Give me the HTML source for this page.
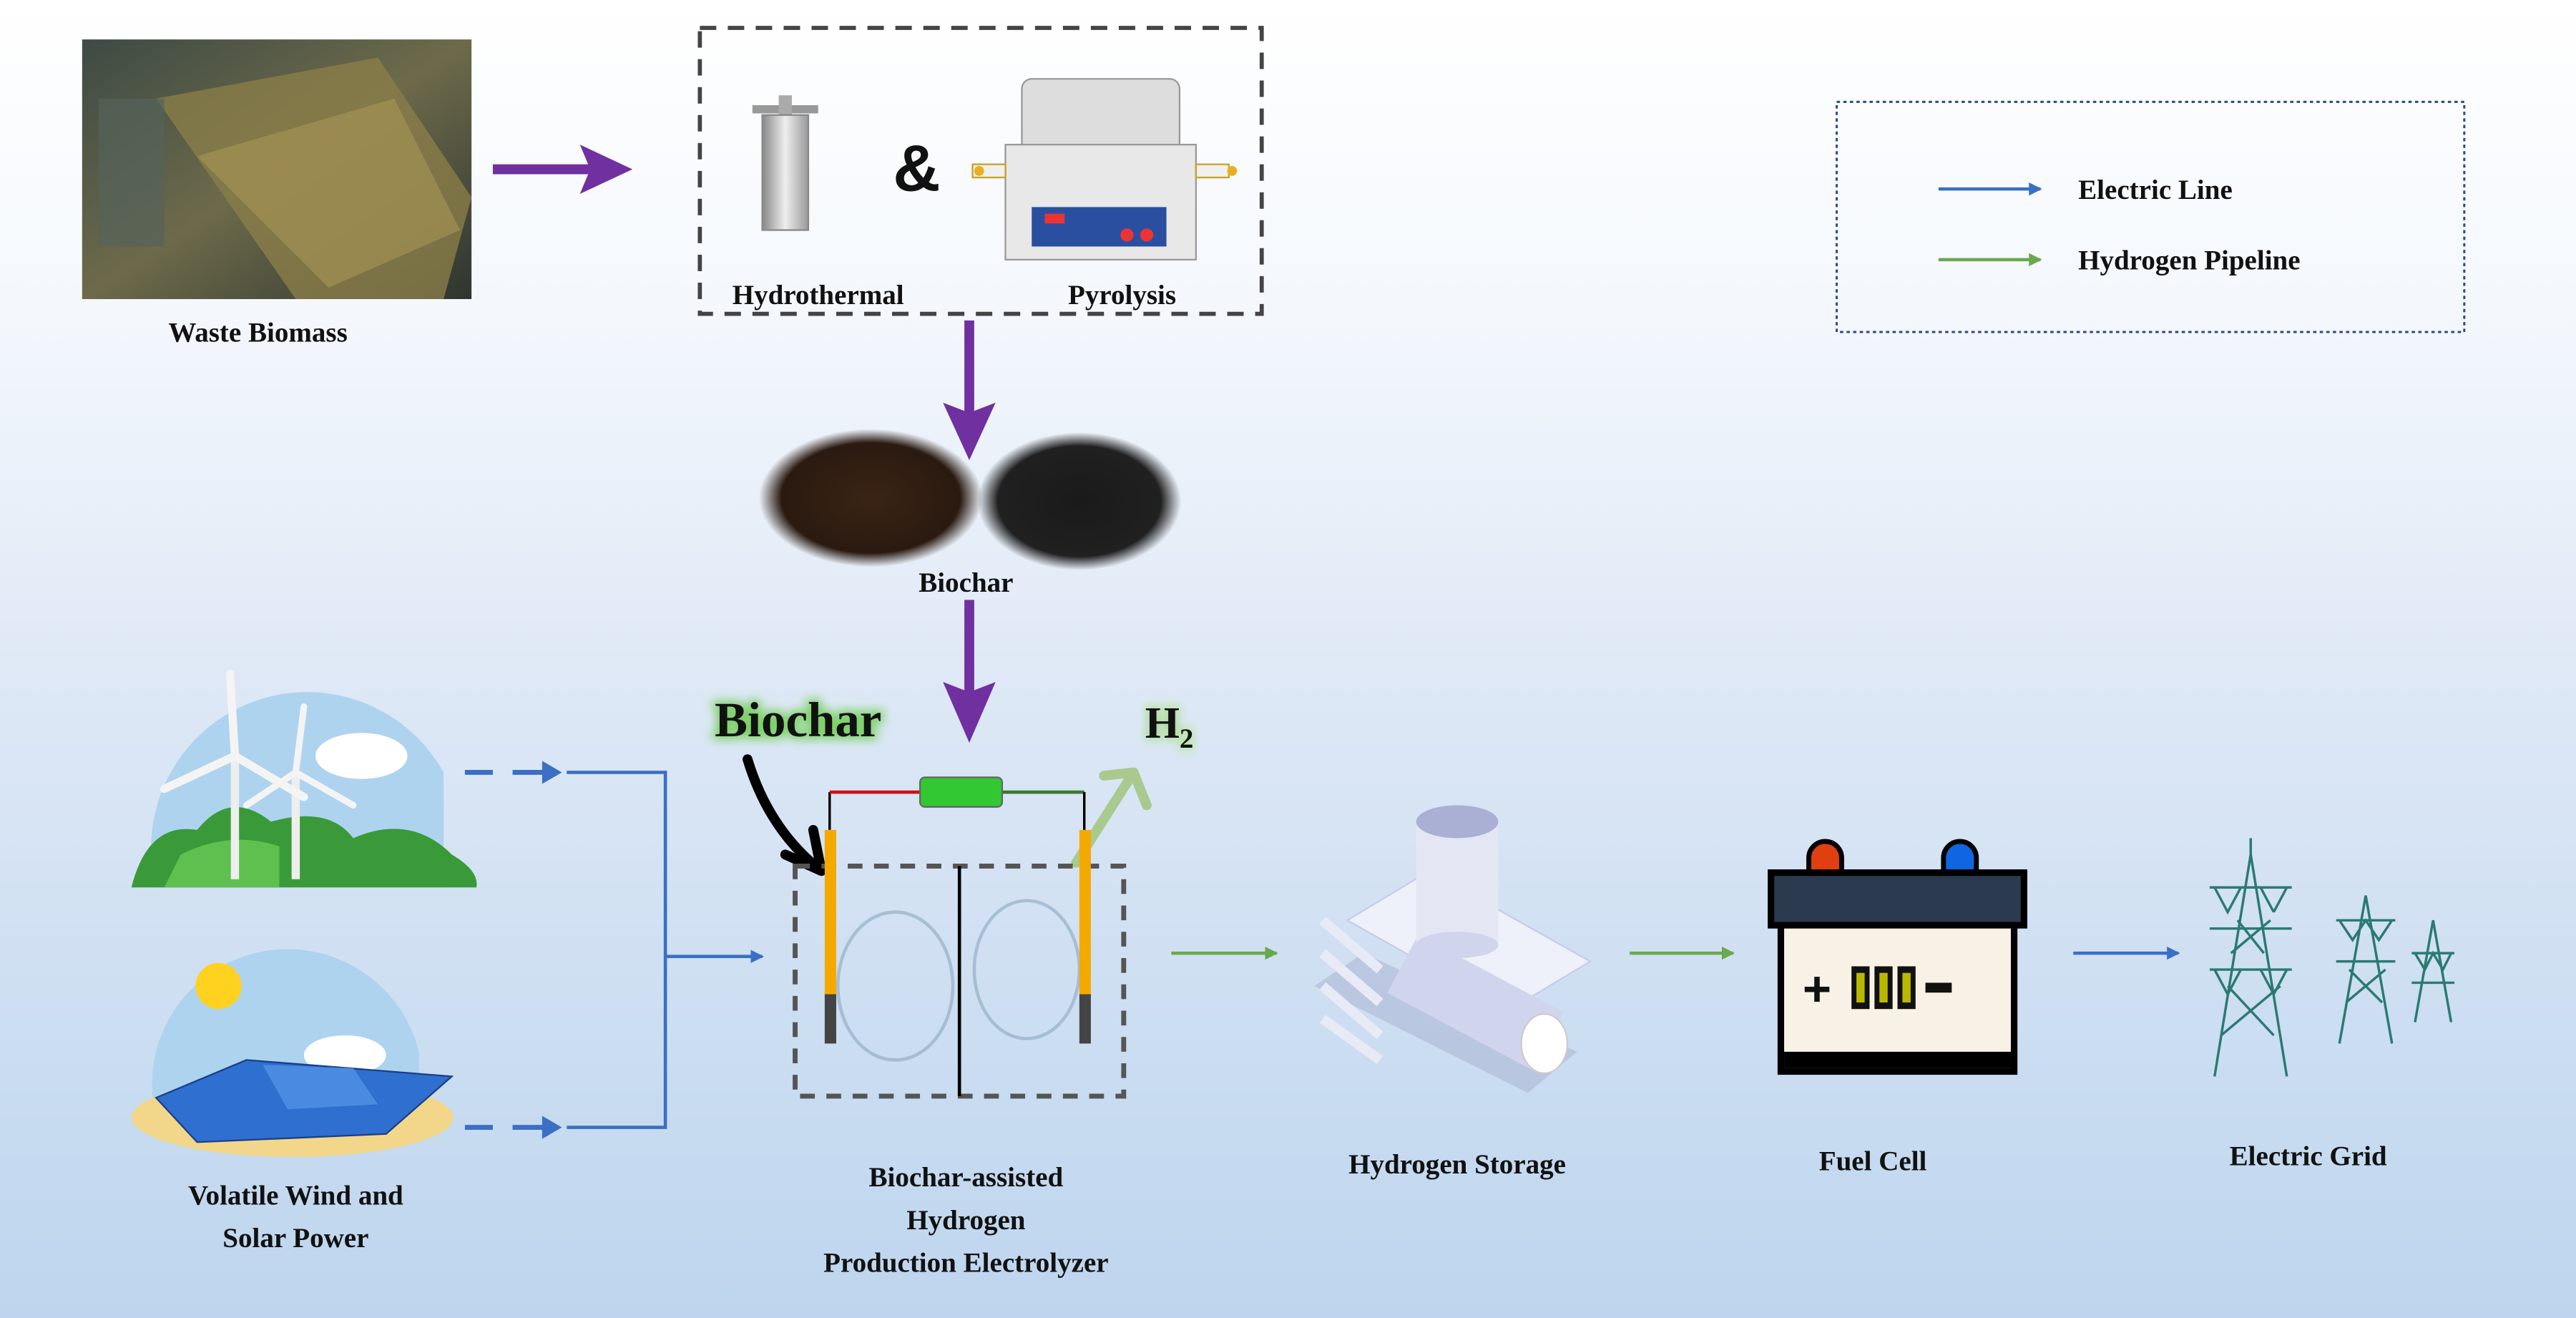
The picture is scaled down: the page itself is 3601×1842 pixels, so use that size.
<!DOCTYPE html>
<html><head><meta charset="utf-8"><style>
html,body{margin:0;padding:0;width:3601px;height:1842px;overflow:hidden;background:#fff}
svg{display:block}
text{font-family:"Liberation Serif",serif;font-weight:bold;fill:#111}
</style></head><body>
<svg width="3601" height="1842" viewBox="0 0 1568 802" preserveAspectRatio="none" xmlns="http://www.w3.org/2000/svg">
<defs>
<linearGradient id="bg" x1="0" y1="0" x2="0" y2="1">
<stop offset="0" stop-color="#ffffff"/><stop offset="0.25" stop-color="#f3f7fc"/><stop offset="0.5" stop-color="#dfe9f6"/><stop offset="1" stop-color="#bdd5ee"/>
</linearGradient>
<linearGradient id="photo" x1="0" y1="0" x2="1" y2="1">
<stop offset="0" stop-color="#3d4a44"/><stop offset="0.5" stop-color="#6d6a4a"/><stop offset="1" stop-color="#2e3530"/>
</linearGradient>
<radialGradient id="brown"><stop offset="0" stop-color="#3a2414"/><stop offset="0.8" stop-color="#2a1a10"/><stop offset="1" stop-color="#2a1a10" stop-opacity="0"/></radialGradient>
<radialGradient id="black"><stop offset="0" stop-color="#1a1a1a"/><stop offset="0.8" stop-color="#202020"/><stop offset="1" stop-color="#202020" stop-opacity="0"/></radialGradient>
<linearGradient id="steel" x1="0" x2="1"><stop offset="0" stop-color="#888"/><stop offset="0.5" stop-color="#eee"/><stop offset="1" stop-color="#999"/></linearGradient>
<marker id="ab" markerWidth="8" markerHeight="8" refX="7" refY="4" orient="auto" markerUnits="userSpaceOnUse"><path d="M0,0 L8,4 L0,8 Z" fill="#3a6fc4"/></marker>
<marker id="ag" markerWidth="8" markerHeight="8" refX="7" refY="4" orient="auto" markerUnits="userSpaceOnUse"><path d="M0,0 L8,4 L0,8 Z" fill="#6aa84f"/></marker>
<filter id="glow"><feGaussianBlur stdDeviation="3"/></filter>
</defs>
<rect width="1568" height="802" fill="url(#bg)"/>

<rect x="50" y="24" width="237" height="158" fill="url(#photo)"/>
<polygon points="95,60 230,35 287,120 270,182 180,182" fill="#8a7d48" opacity="0.8"/>
<polygon points="120,95 240,60 280,140 200,175" fill="#a89656" opacity="0.6"/>
<rect x="60" y="60" width="40" height="90" fill="#55625a" opacity="0.7"/>
<text x="157" y="208" font-size="17" text-anchor="middle">Waste Biomass</text>

<path d="M300,100 L358,100 L353,88 L385,103 L353,118 L358,106 L300,106 Z" fill="#7030a0"/>

<rect x="426" y="17" width="342" height="174" fill="none" stroke="#444" stroke-width="2.5" stroke-dasharray="10,7"/>
<rect x="458" y="64" width="40" height="5" fill="#999"/>
<rect x="474" y="58" width="8" height="12" fill="#aaa"/>
<rect x="464" y="70" width="28" height="70" fill="url(#steel)" stroke="#888"/>
<text x="558" y="116" font-size="40" text-anchor="middle" style="font-family:'Liberation Sans',sans-serif">&amp;</text>
<rect x="622" y="48" width="96" height="45" rx="6" fill="#ddd" stroke="#999"/>
<rect x="612" y="88" width="116" height="70" fill="#e8e8e8" stroke="#999"/>
<rect x="592" y="100" width="20" height="8" fill="#f0f0f0" stroke="#c9a227"/>
<rect x="728" y="100" width="20" height="8" fill="#f0f0f0" stroke="#c9a227"/>
<circle cx="596" cy="104" r="3" fill="#e8b020"/><circle cx="750" cy="104" r="3" fill="#e8b020"/>
<rect x="628" y="126" width="82" height="24" fill="#2a4fa0"/>
<rect x="636" y="130" width="12" height="6" fill="#e33"/>
<circle cx="686" cy="143" r="4" fill="#e33"/><circle cx="698" cy="143" r="4" fill="#e33"/>
<text x="498" y="185" font-size="17" text-anchor="middle">Hydrothermal</text>
<text x="683" y="185" font-size="17" text-anchor="middle">Pyrolysis</text>

<path d="M587,195 L593,195 L593,250 L606,245 L590,280 L574,245 L587,250 Z" fill="#7030a0"/>
<ellipse cx="530" cy="303" rx="68" ry="42" fill="url(#brown)"/>
<ellipse cx="657" cy="305" rx="62" ry="42" fill="url(#black)"/>
<text x="588" y="360" font-size="17" text-anchor="middle">Biochar</text>
<path d="M587,365 L593,365 L593,420 L606,415 L590,452 L574,415 L587,420 Z" fill="#7030a0"/>

<path d="M95,540 A95,95 0 0 1 270,470 L270,540 Z" fill="#aed3ef"/>
<path d="M80,540 Q90,500 120,505 Q140,480 165,500 Q200,490 215,510 Q250,495 275,520 Q292,530 290,540 Z" fill="#3a9a3a"/>
<path d="M110,520 Q140,505 170,515 L170,540 L100,540 Z" fill="#5fbf4f"/>
<ellipse cx="220" cy="460" rx="28" ry="14" fill="#fff"/>
<line x1="143" y1="460" x2="143" y2="535" stroke="#eee" stroke-width="5"/>
<line x1="180" y1="470" x2="180" y2="535" stroke="#eee" stroke-width="5"/>
<path d="M143,460 L140,410 M143,460 L100,480 M143,460 L185,485" stroke="#f4f4f4" stroke-width="5" stroke-linecap="round"/>
<path d="M180,470 L185,430 M180,470 L150,490 M180,470 L215,490" stroke="#f4f4f4" stroke-width="4" stroke-linecap="round"/>
<path d="M95,680 A80,80 0 0 1 255,640 L255,680 Z" fill="#aed3ef"/>
<circle cx="133" cy="600" r="14" fill="#ffd21f"/>
<ellipse cx="210" cy="642" rx="25" ry="12" fill="#fff"/>
<ellipse cx="178" cy="680" rx="98" ry="24" fill="#f2d78a"/>
<polygon points="95,668 150,645 275,655 235,690 120,695" fill="#2f6fd0" stroke="#1a3f88"/>
<polygon points="160,648 215,650 230,672 175,675" fill="#4a8ae0"/>
<text x="180" y="733" font-size="17" text-anchor="middle">Volatile Wind and</text>
<text x="180" y="759" font-size="17" text-anchor="middle">Solar Power</text>

<g stroke="#3a6fc4" stroke-width="3" fill="none">
<line x1="283" y1="470" x2="300" y2="470"/><line x1="312" y1="470" x2="332" y2="470"/>
<line x1="283" y1="686" x2="300" y2="686"/><line x1="312" y1="686" x2="332" y2="686"/>
</g>
<path d="M330,463 L342,470 L330,477 Z M330,679 L342,686 L330,693 Z" fill="#3a6fc4"/>
<path d="M345,470 L405,470 L405,686 L345,686 M405,582 L464,582" stroke="#3a6fc4" stroke-width="2" fill="none" marker-end="url(#ab)"/>

<text x="435" y="448" font-size="30" fill="#7fd36a" filter="url(#glow)" stroke="#7fd36a" stroke-width="4">Biochar</text>
<text x="435" y="448" font-size="30" fill="#1e2a3a">Biochar</text>
<text x="697" y="449" font-size="27" fill="#6ab04c" stroke="#b9e6a4" stroke-width="3" filter="url(#glow)">H<tspan font-size="17" dy="6">2</tspan></text>
<text x="697" y="449" font-size="27" fill="#6ab04c">H<tspan font-size="17" dy="6">2</tspan></text>
<path d="M455,462 Q468,505 500,530 L478,520 M500,530 L495,505" stroke="#000" stroke-width="6" fill="none" stroke-linecap="round"/>
<path d="M655,525 L690,470 L672,472 M690,470 L698,490" stroke="#a9c98f" stroke-width="6" fill="none" stroke-linecap="round" stroke-linejoin="round"/>
<line x1="505" y1="482" x2="505" y2="505" stroke="#000" stroke-width="1.5"/>
<line x1="505" y1="482" x2="560" y2="482" stroke="#d01010" stroke-width="2"/>
<line x1="610" y1="482" x2="660" y2="482" stroke="#3a7a2a" stroke-width="2"/>
<line x1="660" y1="482" x2="660" y2="505" stroke="#000" stroke-width="1.5"/>
<rect x="560" y="473" width="50" height="18" rx="3" fill="#32c832" stroke="#666"/>
<rect x="484" y="527" width="200" height="140" fill="none" stroke="#555" stroke-width="3" stroke-dasharray="9,7"/>
<line x1="584" y1="527" x2="584" y2="667" stroke="#000" stroke-width="2"/>
<ellipse cx="545" cy="600" rx="35" ry="45" fill="none" stroke="#8aa8c0" stroke-width="2" opacity="0.6"/>
<ellipse cx="625" cy="590" rx="32" ry="42" fill="none" stroke="#8aa8c0" stroke-width="2" opacity="0.6"/>
<rect x="502" y="505" width="7" height="100" fill="#f4a900"/>
<rect x="502" y="605" width="7" height="30" fill="#444"/>
<rect x="657" y="505" width="7" height="100" fill="#f4a900"/>
<rect x="657" y="605" width="7" height="30" fill="#444"/>
<text x="588" y="722" font-size="17" text-anchor="middle">Biochar-assisted</text>
<text x="588" y="748" font-size="17" text-anchor="middle">Hydrogen</text>
<text x="588" y="774" font-size="17" text-anchor="middle">Production Electrolyzer</text>

<line x1="713" y1="580" x2="777" y2="580" stroke="#6aa84f" stroke-width="2" marker-end="url(#ag)"/>
<polygon points="830,580 960,640 930,665 800,600" fill="#a8b0d0" opacity="0.5"/>
<polygon points="820,560 870,530 968,585 918,615" fill="#eef0fa" stroke="#c8cce8"/>
<rect x="848" y="590" width="100" height="40" fill="#d0d4ec" transform="rotate(28 898 610)"/>
<ellipse cx="940" cy="635" rx="14" ry="18" fill="#fff" stroke="#ccc"/>
<rect x="862" y="500" width="50" height="75" fill="#e4e6f4"/>
<ellipse cx="887" cy="575" rx="25" ry="8" fill="#d0d4ec"/>
<ellipse cx="887" cy="500" rx="25" ry="10" fill="#aab0d4"/>
<path d="M805,560 L840,590 M805,580 L840,610 M805,600 L840,630 M805,620 L840,645" stroke="#e8eaf6" stroke-width="6"/>
<text x="887" y="714" font-size="17" text-anchor="middle">Hydrogen Storage</text>

<line x1="992" y1="580" x2="1055" y2="580" stroke="#6aa84f" stroke-width="2" marker-end="url(#ag)"/>
<path d="M1101,531 L1101,522 A10,10 0 0 1 1121,522 L1121,531 Z" fill="#e04010" stroke="#000" stroke-width="3"/>
<path d="M1183,531 L1183,522 A10,10 0 0 1 1203,522 L1203,531 Z" fill="#1066e0" stroke="#000" stroke-width="3"/>
<rect x="1078" y="531" width="154" height="32" fill="#2b3a4e" stroke="#000" stroke-width="4"/>
<rect x="1084" y="563" width="142" height="89" fill="#f8f2e6" stroke="#000" stroke-width="4"/>
<rect x="1086" y="640" width="138" height="10" fill="#000"/>
<text x="1106" y="612" font-size="30" text-anchor="middle" style="font-family:'Liberation Sans',sans-serif">+</text>
<rect x="1127" y="588" width="11" height="26" fill="#111"/><rect x="1130" y="592" width="5" height="18" fill="#b8b800"/>
<rect x="1141" y="588" width="11" height="26" fill="#111"/><rect x="1144" y="592" width="5" height="18" fill="#b8b800"/>
<rect x="1155" y="588" width="11" height="26" fill="#111"/><rect x="1158" y="592" width="5" height="18" fill="#b8b800"/>
<rect x="1172" y="598" width="16" height="6" fill="#111"/>
<text x="1140" y="712" font-size="17" text-anchor="middle">Fuel Cell</text>

<line x1="1262" y1="580" x2="1326" y2="580" stroke="#3a6fc4" stroke-width="2" marker-end="url(#ab)"/>
<g stroke="#2a7a72" stroke-width="1.5" fill="none">
<path d="M1348,655 L1370,520 L1392,655 M1352,630 L1388,600 M1356,600 L1384,630 M1358,580 L1382,560 M1362,560 L1378,580 M1370,520 L1370,510"/>
<path d="M1345,540 L1395,540 M1345,565 L1395,565 M1345,590 L1395,590 M1348,540 L1356,555 L1364,540 M1376,540 L1384,555 M1392,540 L1384,555 M1348,590 L1356,605 L1364,590 M1376,590 L1384,605 L1392,590"/>
<path d="M1424,635 L1440,545 L1456,635 M1428,610 L1452,590 M1430,590 L1450,610 M1422,560 L1458,560 M1422,585 L1458,585 M1424,560 L1432,572 L1440,560 L1448,572 L1456,560"/>
<path d="M1470,622 L1481,560 L1492,622 M1468,580 L1494,580 M1468,598 L1494,598 M1470,580 L1476,590 L1481,580 L1487,590 L1492,580"/>
</g>
<text x="1405" y="709" font-size="17" text-anchor="middle">Electric Grid</text>

<rect x="1118" y="62" width="382" height="140" fill="none" stroke="#2a4a8a" stroke-width="1.3" stroke-dasharray="2,2"/>
<line x1="1180" y1="115" x2="1242" y2="115" stroke="#3a6fc4" stroke-width="2" marker-end="url(#ab)"/>
<text x="1265" y="121" font-size="17">Electric Line</text>
<line x1="1180" y1="158" x2="1242" y2="158" stroke="#6aa84f" stroke-width="2" marker-end="url(#ag)"/>
<text x="1265" y="164" font-size="17">Hydrogen Pipeline</text>
</svg>
</body></html>
